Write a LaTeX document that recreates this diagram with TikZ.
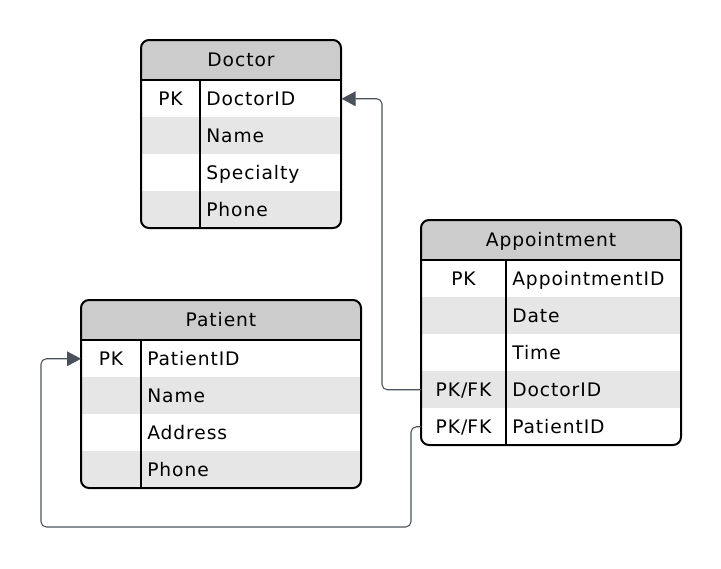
\documentclass[tikz,border=0pt]{standalone}
\usepackage{fontspec}
\setmainfont{DejaVu Sans}[LetterSpace=5]
\usetikzlibrary{positioning,calc,arrows.meta}
\definecolor{headgray}{HTML}{CCCCCC}
\definecolor{rowgray}{HTML}{E6E6E6}
\definecolor{linkgray}{HTML}{4B515C}

\begin{document}
\begin{tikzpicture}[x=0.75pt,y=-0.75pt,font=\fontsize{14}{16}\selectfont,
row/.style={rectangle,anchor=north west,inner sep=0pt,minimum height=27.75pt},
field/.style={anchor=west,inner sep=0pt,text height=12pt,text depth=2pt},
keycol/.style={inner sep=0pt,text height=12pt,text depth=2pt},
title/.style={inner sep=0pt,text height=12pt,text depth=2pt},
divider/.style={line width=1.4pt},
border/.style={line width=1.5pt,rounded corners=6pt},
link/.style={draw=linkgray,line width=0.8pt,rounded corners=4pt,
  -{Triangle[length=10.5pt,width=11pt,fill=linkgray]}}]

\useasboundingbox (0,0) rectangle (721,568);

% Doctor
\begin{scope}
  \clip[rounded corners=6pt] (141,40) rectangle (341,228);
  \fill[headgray] (141,40) rectangle (341,80);
  \foreach \i/\c in {0/white,1/rowgray,2/white,3/rowgray}
    \node[row,fill=\c,minimum width=150pt] (doc\i) at (141,80+37*\i) {};
\end{scope}
\node[title] (docTitle) at (241,60) {Doctor};
\node[keycol] (docPK) at (170.5,98.5) {PK};
\foreach \i/\f in {0/DoctorID,1/Name,2/Specialty,3/Phone}
  \node[field] (docF\i) at (206,98.5+37*\i) {\f};
\draw[divider] (141,80) -- (341,80);
\draw[divider] (200,80) -- (200,228);
\draw[border] (141,40) rectangle (341,228);

% Patient
\begin{scope}
  \clip[rounded corners=6pt] (81,300) rectangle (361,488);
  \fill[headgray] (81,300) rectangle (361,340);
  \foreach \i/\c in {0/white,1/rowgray,2/white,3/rowgray}
    \node[row,fill=\c,minimum width=210pt] (pat\i) at (81,340+37*\i) {};
\end{scope}
\node[title] (patTitle) at (221,320) {Patient};
\node[keycol] (patPK) at (111,358.5) {PK};
\foreach \i/\f in {0/PatientID,1/Name,2/Address,3/Phone}
  \node[field] (patF\i) at (147,358.5+37*\i) {\f};
\draw[divider] (81,340) -- (361,340);
\draw[divider] (141,340) -- (141,488);
\draw[border] (81,300) rectangle (361,488);

% Appointment
\begin{scope}
  \clip[rounded corners=6pt] (421,220) rectangle (681,445);
  \fill[headgray] (421,220) rectangle (681,260);
  \foreach \i/\c in {0/white,1/rowgray,2/white,3/rowgray,4/white}
    \node[row,fill=\c,minimum width=195pt] (ap\i) at (421,260+37*\i) {};
\end{scope}
\node[title] (apTitle) at (551,240) {Appointment};
\foreach \i/\k in {0/PK,3/PK\slash FK,4/PK\slash FK}
  \node[keycol] (apK\i) at (463.5,278.5+37*\i) {\k};
\foreach \i/\f in {0/AppointmentID,1/Date,2/Time,3/DoctorID,4/PatientID}
  \node[field] (apF\i) at (512,278.5+37*\i) {\f};
\draw[divider] (421,260) -- (681,260);
\draw[divider] (506,260) -- (506,445);
\draw[border] (421,220) rectangle (681,445);

% links
\coordinate (patLoop) at (41,527);
\draw[link] (ap3.west) -- ++(-39,0) |- (doc0.east);
\draw[link] (ap4.west) -- ++(-10,0) |- (patLoop) |- (pat0.west);

\end{tikzpicture}
\end{document}
